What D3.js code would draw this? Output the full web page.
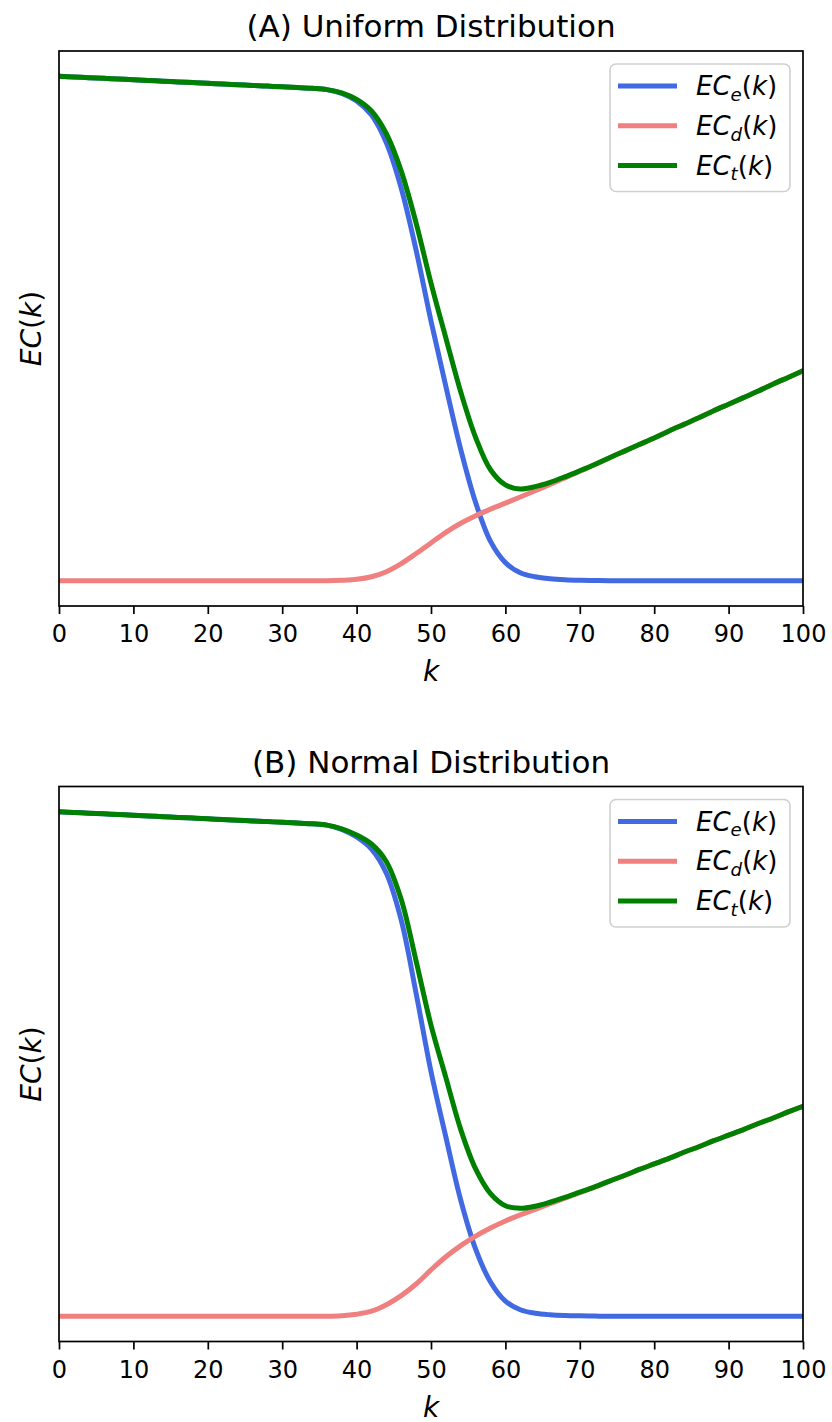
<!DOCTYPE html>
<html>
<head>
<meta charset="utf-8">
<script src="https://cdn.jsdelivr.net/npm/d3@7"></script>
<style>
  html, body { margin: 0; padding: 0; background: #fff; }
  svg { display: block; }
  text { font-family: "DejaVu Sans", sans-serif; fill: #000; }
</style>
</head>
<body>
<svg id="chart" width="832" height="1422"></svg>
<script>
// ---------- data ----------
const kValues = [0,2,4,6,8,10,12,14,16,18,20,22,24,26,28,30,32,34,36,38,40,42,44,46,48,50,52,54,56,58,60,62,64,66,68,70,72,74,76,78,80,82,84,86,88,90,92,94,96,98,100];
const xTicks = [0,10,20,30,40,50,60,70,80,90,100];

// (A) Uniform distribution
const ecE_A = [100,99.86,99.72,99.58,99.44,99.3,99.16,99.02,98.88,98.74,98.6,98.46,98.32,98.18,98.04,97.9,97.76,97.6,97.35,96.6,95.1,92.3,86.8,77.8,65.5,51.5,38.5,26.0,15.5,7.8,3.6,1.6,0.8,0.4,0.2,0.1,0.05,0,0,0,0,0,0,0,0,0,0,0,0,0,0];
const ecD_A = [0,0,0,0,0,0,0,0,0,0,0,0,0,0,0,0,0,0,0,0.1,0.3,0.8,1.8,3.4,5.4,7.5,9.6,11.4,12.9,14.2,15.4,16.6,17.85,19.1,20.4,21.7,23.0,24.4,25.7,27.0,28.3,29.7,31.0,32.3,33.7,35.0,36.3,37.6,39.0,40.3,41.6];
const ecT_A = [100,99.86,99.72,99.58,99.44,99.3,99.16,99.02,98.88,98.74,98.6,98.46,98.32,98.18,98.04,97.9,97.76,97.6,97.35,96.7,95.4,93.1,88.6,81.2,70.9,59.0,48.1,37.4,28.4,22.0,19.0,18.2,18.65,19.5,20.6,21.8,23.05,24.4,25.7,27.0,28.3,29.7,31.0,32.3,33.7,35.0,36.3,37.6,39.0,40.3,41.6];

// (B) Normal distribution
const ecE_B = [100,99.86,99.72,99.58,99.44,99.3,99.16,99.02,98.88,98.74,98.6,98.46,98.32,98.18,98.04,97.9,97.76,97.6,97.35,96.5,95.0,92.6,87.8,78.5,64.0,48.5,35.5,23.0,13.3,6.8,3.0,1.3,0.6,0.3,0.15,0.08,0.04,0,0,0,0,0,0,0,0,0,0,0,0,0,0];
const ecD_B = [0,0,0,0,0,0,0,0,0,0,0,0,0,0,0,0,0,0,0,0.1,0.4,1.0,2.3,4.1,6.4,9.2,11.8,14.0,15.9,17.5,18.9,20.1,21.2,22.3,23.4,24.5,25.6,26.8,27.9,29.1,30.2,31.3,32.5,33.6,34.8,35.9,37.0,38.2,39.3,40.5,41.6];
const ecT_B = [100,99.86,99.72,99.58,99.44,99.3,99.16,99.02,98.88,98.74,98.6,98.46,98.32,98.18,98.04,97.9,97.76,97.6,97.35,96.6,95.4,93.6,90.1,82.6,70.4,57.7,47.3,37.0,29.2,24.3,21.9,21.4,21.8,22.6,23.55,24.6,25.64,26.8,27.9,29.1,30.2,31.3,32.5,33.6,34.8,35.9,37.0,38.2,39.3,40.5,41.6];

const seriesNames = ["e", "d", "t"];
const seriesColors = ["#4169E1", "#F08080", "#008000"];
const panelTitles = ["(A) Uniform Distribution", "(B) Normal Distribution"];

// ---------- layout ----------
const svg = d3.select("#chart");
const left = 59, right = 803;
const panels = [
  { top: 51, bottom: 606, title: panelTitles[0], data: [ecE_A, ecD_A, ecT_A] },
  { top: 786.5, bottom: 1341.5, title: panelTitles[1], data: [ecE_B, ecD_B, ecT_B] }
];

function addMath(textSel, sub, fs) {
  textSel.append("tspan").attr("font-style", "italic").text("EC");
  if (sub) {
    textSel.append("tspan").attr("font-style", "italic")
      .attr("font-size", fs * 0.7).attr("dy", fs * 0.22).text(sub);
    textSel.append("tspan").attr("dy", -fs * 0.22).text("(");
  } else {
    textSel.append("tspan").text("(");
  }
  textSel.append("tspan").attr("font-style", "italic").text("k");
  textSel.append("tspan").text(")");
}

panels.forEach(p => {
  const g = svg.append("g");
  const x = d3.scaleLinear().domain([0, 100]).range([left, right]);
  const all = p.data.flat();
  const [mn, mx] = d3.extent(all);
  const pad = (mx - mn) * 0.05;
  const y = d3.scaleLinear().domain([mn - pad, mx + pad]).range([p.bottom, p.top]);

  const line = d3.line()
    .x((d, i) => x(kValues[i]))
    .y(d => y(d))
    .curve(d3.curveCatmullRom.alpha(0.5));

  const clipId = "clip" + Math.round(p.top);
  g.append("clipPath").attr("id", clipId)
    .append("rect").attr("x", left).attr("y", p.top)
    .attr("width", right - left).attr("height", p.bottom - p.top);

  const lines = g.append("g").attr("clip-path", `url(#${clipId})`);
  p.data.forEach((arr, si) => {
    lines.append("path")
      .datum(arr)
      .attr("fill", "none")
      .attr("stroke", seriesColors[si])
      .attr("stroke-width", 5)
      .attr("stroke-linejoin", "round")
      .attr("stroke-linecap", "square")
      .attr("d", line);
  });

  // frame
  g.append("rect").attr("x", left).attr("y", p.top)
    .attr("width", right - left).attr("height", p.bottom - p.top)
    .attr("fill", "none").attr("stroke", "#000").attr("stroke-width", 1.7);

  // x axis
  const xAxis = d3.axisBottom(x).tickValues(xTicks).tickSize(8).tickPadding(11).tickFormat(d3.format("d"));
  const ax = g.append("g").attr("transform", `translate(0,${p.bottom})`).call(xAxis);
  ax.select(".domain").remove();
  ax.selectAll(".tick line").attr("stroke", "#000").attr("stroke-width", 1.7);
  ax.selectAll(".tick text").attr("font-size", 24).attr("font-family", "DejaVu Sans").attr("fill", "#000");

  // title
  g.append("text").attr("x", (left + right) / 2).attr("y", p.top - 14)
    .attr("text-anchor", "middle").attr("font-size", 31).text(p.title);

  // x label
  g.append("text").attr("x", (left + right) / 2).attr("y", p.bottom + 75)
    .attr("text-anchor", "middle").attr("font-size", 28).attr("font-style", "italic").text("k");

  // y label
  const yl = g.append("text")
    .attr("transform", `translate(41,${(p.top + p.bottom) / 2}) rotate(-90)`)
    .attr("text-anchor", "middle").attr("font-size", 28);
  addMath(yl, null, 28);

  // legend
  const lg = g.append("g").attr("transform", `translate(610,${p.top + 13})`);
  lg.append("rect").attr("width", 180).attr("height", 127.5).attr("rx", 6)
    .attr("fill", "#fff").attr("fill-opacity", 0.8)
    .attr("stroke", "#d0d0d0").attr("stroke-width", 1.6);
  seriesNames.forEach((s, i) => {
    const cy = 22 + i * 39.8;
    lg.append("line").attr("x1", 8).attr("x2", 67).attr("y1", cy).attr("y2", cy)
      .attr("stroke", seriesColors[i]).attr("stroke-width", 5);
    const t = lg.append("text").attr("x", 86).attr("y", cy + 9).attr("font-size", 26);
    addMath(t, s, 26);
  });
});
</script>
</body>
</html>
